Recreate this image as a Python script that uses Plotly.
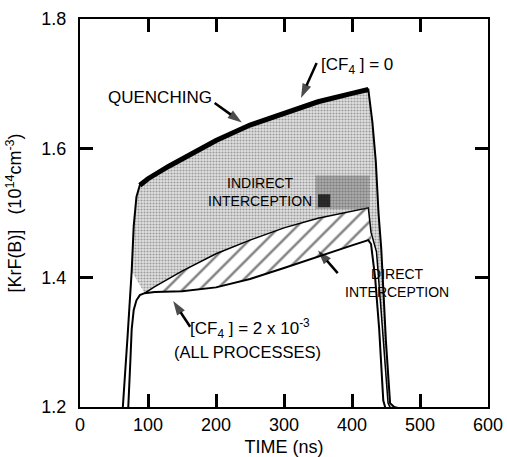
import plotly.graph_objects as go

# ---- data ----
# [CF4] = 0 curve (upper envelope, quenching only)
t_zero = [58, 63, 70, 76, 79, 83, 88, 100, 130, 160, 200, 250, 300, 350, 400, 424, 430, 435, 439, 443, 450, 456, 462, 480]
y_zero = [1.15, 1.2, 1.31, 1.41, 1.48, 1.525, 1.543, 1.553, 1.572, 1.59, 1.612, 1.636, 1.655, 1.672, 1.685, 1.691,
          1.64, 1.58, 1.50, 1.445, 1.30, 1.206, 1.2, 1.195]

# intermediate curve (quenching + indirect interception)
t_mid = [95, 110, 150, 200, 250, 300, 350, 400, 424, 428, 436, 442, 448, 453, 458]
y_mid = [1.376, 1.386, 1.41, 1.437, 1.458, 1.477, 1.492, 1.503, 1.508, 1.47, 1.44, 1.36, 1.27, 1.206, 1.195]

# [CF4] = 2e-3 curve (all processes)
t_all = [66, 71, 74, 76, 79, 83, 88, 95, 110, 150, 200, 250, 300, 350, 400, 424, 428, 434, 440, 446, 450]
y_all = [1.15, 1.2, 1.27, 1.32, 1.35, 1.365, 1.373, 1.376, 1.378, 1.379, 1.385, 1.398, 1.415, 1.433, 1.450, 1.458,
         1.452, 1.40, 1.32, 1.21, 1.195]

x_ticks = [0, 100, 200, 300, 400, 500, 600]
y_ticks = [1.2, 1.4, 1.6, 1.8]

FONT = "Liberation Sans, Arial, sans-serif"

# ---- derived polygons ----
grey_x = [t for t in t_zero if t >= 76] + t_mid[::-1]
grey_y = [y for t, y in zip(t_zero, y_zero) if t >= 76] + y_mid[::-1]

hatch_x = [t for t in t_mid if t <= 428] + [t for t in t_all if 95 <= t <= 428][::-1]
hatch_y = [y for t, y in zip(t_mid, y_mid) if t <= 428] + [y for t, y in zip(t_all, y_all) if 95 <= t <= 428][::-1]

fig = go.Figure()

fig.add_trace(go.Scatter(
    x=grey_x, y=grey_y, mode="lines", fill="toself",
    line=dict(width=0, color="rgba(0,0,0,0)"),
    fillcolor="#cccccc",
    fillpattern=dict(shape=".", fgcolor="#555555", bgcolor="#e0e0e0", size=3, solidity=0.38),
    hoverinfo="skip", showlegend=False))

fig.add_trace(go.Scatter(
    x=hatch_x, y=hatch_y, mode="lines", fill="toself",
    line=dict(width=0, color="rgba(0,0,0,0)"),
    fillpattern=dict(shape="/", fgcolor="black", bgcolor="white", size=12, solidity=0.2),
    hoverinfo="skip", showlegend=False))

fig.add_trace(go.Scatter(x=t_zero, y=y_zero, mode="lines",
                         line=dict(color="black", width=2), showlegend=False, hoverinfo="skip"))
top_x = [t for t in t_zero if 86 <= t <= 426]
top_y = [y for t, y in zip(t_zero, y_zero) if 86 <= t <= 426]
fig.add_trace(go.Scatter(x=top_x, y=top_y, mode="lines",
                         line=dict(color="black", width=5), showlegend=False, hoverinfo="skip"))
fig.add_trace(go.Scatter(x=t_mid, y=y_mid, mode="lines",
                         line=dict(color="black", width=1.5), showlegend=False, hoverinfo="skip"))
fig.add_trace(go.Scatter(x=t_all, y=y_all, mode="lines",
                         line=dict(color="black", width=2), showlegend=False, hoverinfo="skip"))

# darker patch near the indirect-interception label
fig.add_shape(type="rect", x0=346, x1=426, y0=1.506, y1=1.558, xref="x", yref="y",
              line=dict(width=0), fillcolor="rgba(70,70,70,0.35)", layer="above")
fig.add_shape(type="rect", x0=350, x1=368, y0=1.509, y1=1.529, xref="x", yref="y",
              line=dict(width=0), fillcolor="rgba(20,20,20,0.85)", layer="above")

def label(x, y, text, size, xanchor="center"):
    fig.add_annotation(x=x, y=y, text=text, showarrow=False, xref="x", yref="y",
                       xanchor=xanchor, yanchor="middle", font=dict(family=FONT, size=size, color="black"))

def arrow(x0, y0, x1, y1):
    fig.add_trace(go.Scatter(x=[x0, x1], y=[y0, y1], mode="lines+markers",
                             line=dict(color="black", width=2.5),
                             marker=dict(symbol="arrow", size=[0, 15], angleref="previous", color="black",
                                         line=dict(width=0)),
                             showlegend=False, hoverinfo="skip"))

label(117.6, 1.678, "QUENCHING", 17)
arrow(198, 1.670, 238, 1.640)

label(407, 1.727, "[CF<sub>4</sub> ] = 0", 17)
arrow(348, 1.732, 325, 1.678)

label(264.7, 1.532, "INDIRECT<br>INTERCEPTION", 14)

label(386.8, 1.391, "DIRECT<br>INTERCEPTION", 14, xanchor="left")
arrow(379, 1.407, 350, 1.442)

label(158.8, 1.322, "[CF<sub>4</sub> ] = 2 x 10<sup>-3</sup>", 17, xanchor="left")
label(135.3, 1.285, "(ALL PROCESSES)", 16.5, xanchor="left")
arrow(162, 1.324, 137, 1.364)

axis_common = dict(showline=True, linewidth=2, linecolor="black", mirror="ticks",
                   ticks="inside", ticklen=13, tickwidth=2.5, tickcolor="black",
                   showgrid=False, zeroline=False, automargin=False,
                   tickfont=dict(family=FONT, size=18, color="black"))

fig.update_xaxes(range=[0, 600], tickvals=x_ticks,
                 title=dict(text="TIME (ns)", font=dict(family=FONT, size=18, color="black")),
                 **axis_common)
fig.update_yaxes(range=[1.2, 1.8], tickvals=y_ticks, tickformat=".1f",
                 ticklabelstandoff=8,
                 title=dict(text="[KrF(B)]   (10<sup>14</sup>cm<sup>-3</sup>)",
                            font=dict(family=FONT, size=18, color="black")),
                 **axis_common)

fig.update_layout(width=507, height=457, margin=dict(l=80, r=19, t=19, b=50),
                  plot_bgcolor="white", paper_bgcolor="white",
                  font=dict(family=FONT, color="black"))

fig.write_html("out.html")
